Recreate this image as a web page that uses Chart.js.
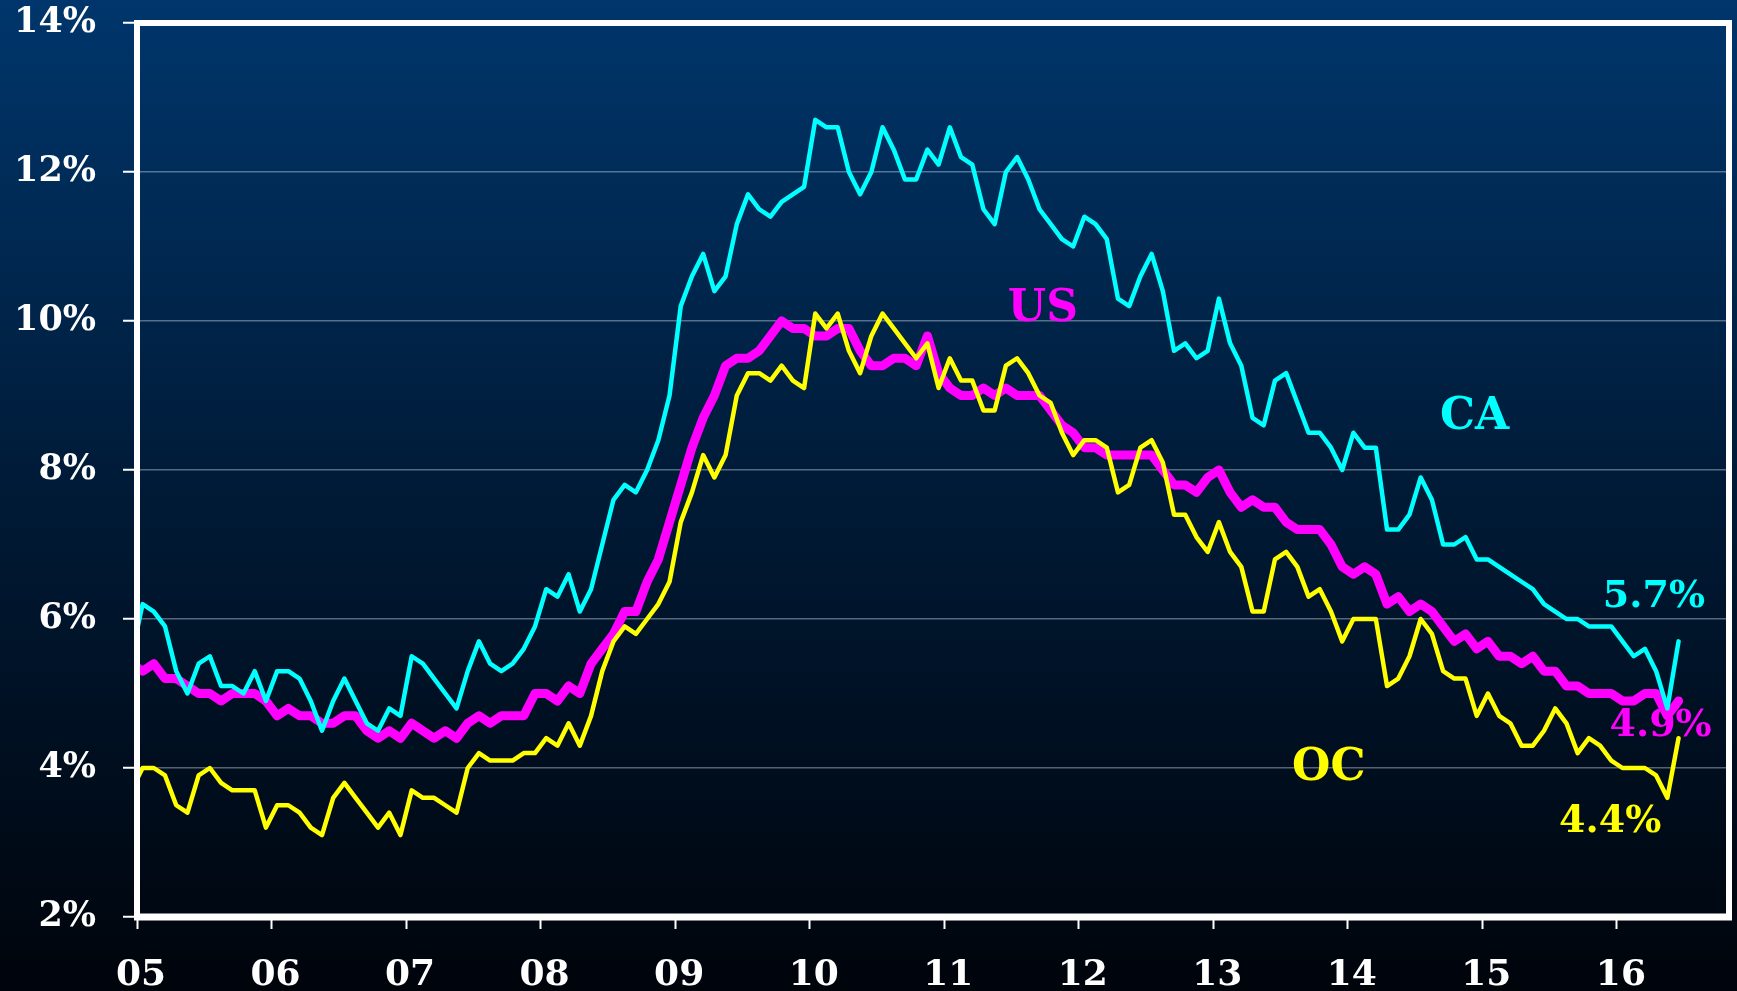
<!DOCTYPE html>
<html>
<head>
<meta charset="utf-8">
<title>Unemployment rate: CA, US, OC</title>
<script src="https://cdn.jsdelivr.net/npm/chart.js@4.4.1/dist/chart.umd.min.js"></script>
<style>
    html, body { margin: 0; padding: 0; background: #000; }
    canvas { display: block; }
</style>
</head>
<body>
<canvas id="myChart" width="1737" height="991"></canvas>
<script>
// Monthly rates in %, Dec 2004 to Jun 2016
const yearList = ['05', '06', '07', '08', '09', '10', '11', '12', '13', '14', '15', '16']
const yTicks = [2, 4, 6, 8, 10, 12, 14]

const caRate = [5.5,
    6.2, 6.1, 5.9, 5.3, 5.0, 5.4, 5.5, 5.1, 5.1, 5.0, 5.3, 4.9,
    5.3, 5.3, 5.2, 4.9, 4.5, 4.9, 5.2, 4.9, 4.6, 4.5, 4.8, 4.7,
    5.5, 5.4, 5.2, 5.0, 4.8, 5.3, 5.7, 5.4, 5.3, 5.4, 5.6, 5.9,
    6.4, 6.3, 6.6, 6.1, 6.4, 7.0, 7.6, 7.8, 7.7, 8.0, 8.4, 9.0,
    10.2, 10.6, 10.9, 10.4, 10.6, 11.3, 11.7, 11.5, 11.4, 11.6, 11.7, 11.8,
    12.7, 12.6, 12.6, 12.0, 11.7, 12.0, 12.6, 12.3, 11.9, 11.9, 12.3, 12.1,
    12.6, 12.2, 12.1, 11.5, 11.3, 12.0, 12.2, 11.9, 11.5, 11.3, 11.1, 11.0,
    11.4, 11.3, 11.1, 10.3, 10.2, 10.6, 10.9, 10.4, 9.6, 9.7, 9.5, 9.6,
    10.3, 9.7, 9.4, 8.7, 8.6, 9.2, 9.3, 8.9, 8.5, 8.5, 8.3, 8.0,
    8.5, 8.3, 8.3, 7.2, 7.2, 7.4, 7.9, 7.6, 7.0, 7.0, 7.1, 6.8,
    6.8, 6.7, 6.6, 6.5, 6.4, 6.2, 6.1, 6.0, 6.0, 5.9, 5.9, 5.9,
    5.7, 5.5, 5.6, 5.3, 4.8, 5.7]

const usRate = [5.4,
    5.3, 5.4, 5.2, 5.2, 5.1, 5.0, 5.0, 4.9, 5.0, 5.0, 5.0, 4.9,
    4.7, 4.8, 4.7, 4.7, 4.6, 4.6, 4.7, 4.7, 4.5, 4.4, 4.5, 4.4,
    4.6, 4.5, 4.4, 4.5, 4.4, 4.6, 4.7, 4.6, 4.7, 4.7, 4.7, 5.0,
    5.0, 4.9, 5.1, 5.0, 5.4, 5.6, 5.8, 6.1, 6.1, 6.5, 6.8, 7.3,
    7.8, 8.3, 8.7, 9.0, 9.4, 9.5, 9.5, 9.6, 9.8, 10.0, 9.9, 9.9,
    9.8, 9.8, 9.9, 9.9, 9.6, 9.4, 9.4, 9.5, 9.5, 9.4, 9.8, 9.3,
    9.1, 9.0, 9.0, 9.1, 9.0, 9.1, 9.0, 9.0, 9.0, 8.8, 8.6, 8.5,
    8.3, 8.3, 8.2, 8.2, 8.2, 8.2, 8.2, 8.0, 7.8, 7.8, 7.7, 7.9,
    8.0, 7.7, 7.5, 7.6, 7.5, 7.5, 7.3, 7.2, 7.2, 7.2, 7.0, 6.7,
    6.6, 6.7, 6.6, 6.2, 6.3, 6.1, 6.2, 6.1, 5.9, 5.7, 5.8, 5.6,
    5.7, 5.5, 5.5, 5.4, 5.5, 5.3, 5.3, 5.1, 5.1, 5.0, 5.0, 5.0,
    4.9, 4.9, 5.0, 5.0, 4.7, 4.9]

const ocRate = [3.7,
    4.0, 4.0, 3.9, 3.5, 3.4, 3.9, 4.0, 3.8, 3.7, 3.7, 3.7, 3.2,
    3.5, 3.5, 3.4, 3.2, 3.1, 3.6, 3.8, 3.6, 3.4, 3.2, 3.4, 3.1,
    3.7, 3.6, 3.6, 3.5, 3.4, 4.0, 4.2, 4.1, 4.1, 4.1, 4.2, 4.2,
    4.4, 4.3, 4.6, 4.3, 4.7, 5.3, 5.7, 5.9, 5.8, 6.0, 6.2, 6.5,
    7.3, 7.7, 8.2, 7.9, 8.2, 9.0, 9.3, 9.3, 9.2, 9.4, 9.2, 9.1,
    10.1, 9.9, 10.1, 9.6, 9.3, 9.8, 10.1, 9.9, 9.7, 9.5, 9.7, 9.1,
    9.5, 9.2, 9.2, 8.8, 8.8, 9.4, 9.5, 9.3, 9.0, 8.9, 8.5, 8.2,
    8.4, 8.4, 8.3, 7.7, 7.8, 8.3, 8.4, 8.1, 7.4, 7.4, 7.1, 6.9,
    7.3, 6.9, 6.7, 6.1, 6.1, 6.8, 6.9, 6.7, 6.3, 6.4, 6.1, 5.7,
    6.0, 6.0, 6.0, 5.1, 5.2, 5.5, 6.0, 5.8, 5.3, 5.2, 5.2, 4.7,
    5.0, 4.7, 4.6, 4.3, 4.3, 4.5, 4.8, 4.6, 4.2, 4.4, 4.3, 4.1,
    4.0, 4.0, 4.0, 3.9, 3.6, 4.4]

// x = months since Jan 2005, the first value is Dec 2004
const toPoints = (list) => list.map((v, i) => ({ x: i - 1, y: v }))

const fontName = '"DejaVu Serif", "Liberation Serif", serif'

// Text notes placed in data units
const notes = [
    { text: 'US', x: 80.3, y: 10.15, color: '#ff00ff', size: 44 },
    { text: 'CA', x: 118.8, y: 8.7, color: '#00ffff', size: 44 },
    { text: 'OC', x: 105.8, y: 3.99, color: '#ffff00', size: 44 },
    { text: '5.7%', x: 134.8, y: 6.3, color: '#00ffff', size: 38 },
    { text: '4.9%', x: 135.4, y: 4.56, color: '#ff00ff', size: 38 },
    { text: '4.4%', x: 130.9, y: 3.27, color: '#ffff00', size: 38 }
]

const backdrop = {
    id: 'backdrop',
    beforeDraw(chart) {
        const c = chart.ctx
        const g = c.createLinearGradient(0, 0, 0, chart.height)
        g.addColorStop(0, '#00366c')
        g.addColorStop(0.5, '#001a36')
        g.addColorStop(1, '#00040b')
        c.save()
        c.fillStyle = g
        c.fillRect(0, 0, chart.width, chart.height)
        c.restore()
    }
}

const labels = {
    id: 'labels',
    beforeDatasetsDraw(chart) {
        const c = chart.ctx
        const xs = chart.scales.x
        const ys = chart.scales.y
        c.save()
        c.textAlign = 'center'
        c.textBaseline = 'middle'
        notes.forEach((n) => {
            c.font = `bold ${n.size}px ${fontName}`
            c.fillStyle = n.color
            c.fillText(n.text, xs.getPixelForValue(n.x), ys.getPixelForValue(n.y))
        })
        c.restore()
    },
    afterDatasetsDraw(chart) {
        // white frame round the plot
        const a = chart.chartArea
        const c = chart.ctx
        c.save()
        c.strokeStyle = '#ffffff'
        c.lineWidth = 6
        c.strokeRect(a.left, a.top, a.right - a.left, a.bottom - a.top)
        c.lineWidth = 7
        c.beginPath()
        c.moveTo(a.left - 3, a.bottom)
        c.lineTo(a.right + 3, a.bottom)
        c.stroke()
        c.restore()
    }
}

const ctx = document.getElementById('myChart').getContext('2d')

const myChart = new Chart(ctx, {
    type: 'line',
    data: {
        datasets: [{
            label: 'CA',
            data: toPoints(caRate),
            borderColor: '#00ffff',
            borderWidth: 4.5
        }, {
            label: 'OC',
            data: toPoints(ocRate),
            borderColor: '#ffff00',
            borderWidth: 4.5
        }, {
            label: 'US',
            data: toPoints(usRate),
            borderColor: '#ff00ff',
            borderWidth: 9
        }]
    },
    options: {
        responsive: false,
        animation: false,
        devicePixelRatio: 1,
        layout: { padding: { top: 23, right: 8, left: 0, bottom: 0 } },
        elements: {
            point: { radius: 0 },
            line: { tension: 0, fill: false, borderJoinStyle: 'round', borderCapStyle: 'round' }
        },
        datasets: { line: { clip: 0 } },
        plugins: {
            legend: { display: false },
            tooltip: { enabled: false }
        },
        scales: {
            x: {
                type: 'linear',
                min: -0.5,
                max: 141.5,
                afterBuildTicks: (scale) => {
                    scale.ticks = yearList.map((y, i) => ({ value: i * 12 - 0.5 }))
                },
                afterFit: (scale) => {
                    scale.height = 74
                    scale.paddingLeft = 0
                    scale.paddingRight = 0
                },
                border: { display: false },
                grid: {
                    drawOnChartArea: false,
                    tickLength: 12,
                    tickWidth: 2,
                    tickColor: '#ffffff'
                },
                ticks: {
                    autoSkip: false,
                    maxRotation: 0,
                    padding: 25,
                    labelOffset: 4,
                    color: '#ffffff',
                    font: { family: fontName, size: 36, weight: 'bold' },
                    callback: (v, i) => yearList[i]
                }
            },
            y: {
                min: yTicks[0],
                max: yTicks[yTicks.length - 1],
                afterBuildTicks: (scale) => {
                    scale.ticks = yTicks.map((v) => ({ value: v }))
                },
                afterFit: (scale) => {
                    scale.width = 137
                    scale.paddingTop = 0
                    scale.paddingBottom = 0
                },
                border: { display: false },
                grid: {
                    color: 'rgba(190, 205, 220, 0.45)',
                    lineWidth: 1.5,
                    tickLength: 14,
                    tickWidth: 2,
                    tickColor: '#ffffff'
                },
                ticks: {
                    padding: 27,
                    color: '#ffffff',
                    font: { family: fontName, size: 35, weight: 'bold' },
                    callback: (v) => v + '%'
                }
            }
        }
    },
    plugins: [backdrop, labels]
})
</script>
</body>
</html>
